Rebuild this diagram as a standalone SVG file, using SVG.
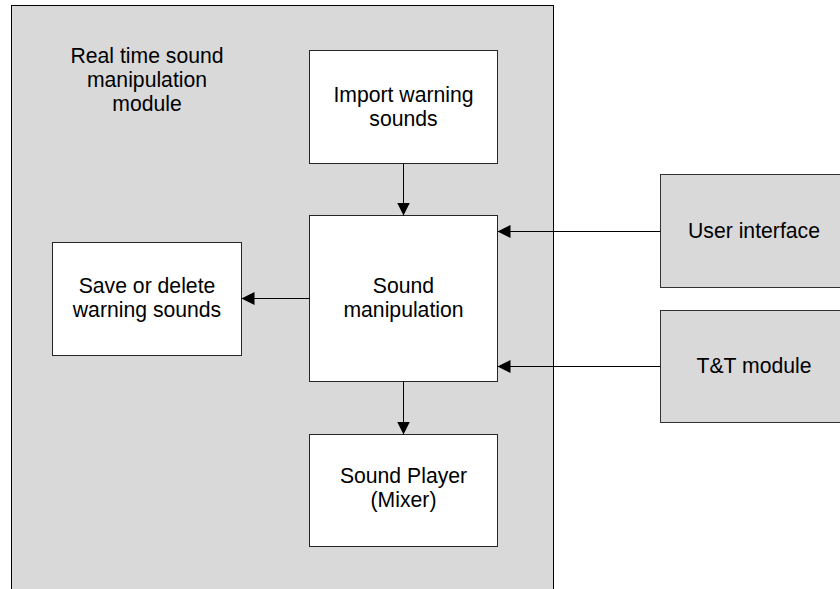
<svg xmlns="http://www.w3.org/2000/svg" width="840" height="589" viewBox="0 0 840 589">
  <style>
    .label { font-family: "Liberation Sans", Arial, sans-serif; font-size: 21.2px; fill: #000; text-anchor: middle; }
    .box { fill: #ffffff; stroke: #262626; stroke-width: 1; }
    .ext { fill: #d9d9d9; stroke: #333333; stroke-width: 1; }
    .frame { fill: #d9d9d9; stroke: #000000; stroke-width: 1; }
    .wire { fill: none; stroke: #000000; stroke-width: 1; marker-end: url(#head); }
  </style>
  <defs>
    <marker id="head" markerUnits="userSpaceOnUse" markerWidth="13" markerHeight="13" refX="13" refY="6.5" orient="auto">
      <path d="M0,0 L13,6.5 L0,13 Z" fill="#000000"/>
    </marker>
  </defs>

  <rect width="840" height="589" fill="#ffffff"/>

  <!-- module boundary -->
  <g id="module">
    <rect class="frame" x="11.5" y="5.5" width="542" height="600"/>
    <text class="label" x="147" y="63">Real time sound</text>
    <text class="label" x="147" y="87">manipulation</text>
    <text class="label" x="147" y="111">module</text>
  </g>

  <g id="import">
    <rect class="box" x="309.5" y="50.5" width="188" height="113"/>
    <text class="label" x="403.5" y="102">Import warning</text>
    <text class="label" x="403.5" y="126">sounds</text>
  </g>

  <g id="manipulation">
    <rect class="box" x="309.5" y="215.5" width="188" height="166"/>
    <text class="label" x="403.5" y="293">Sound</text>
    <text class="label" x="403.5" y="317">manipulation</text>
  </g>

  <g id="save">
    <rect class="box" x="52.5" y="242.5" width="189" height="113"/>
    <text class="label" x="147" y="293">Save or delete</text>
    <text class="label" x="147" y="317">warning sounds</text>
  </g>

  <g id="player">
    <rect class="box" x="309.5" y="434.5" width="188" height="112"/>
    <text class="label" x="403.5" y="483">Sound Player</text>
    <text class="label" x="403.5" y="507">(Mixer)</text>
  </g>

  <g id="ui">
    <rect class="ext" x="660.5" y="174.5" width="189" height="113"/>
    <text class="label" x="754" y="238">User interface</text>
  </g>

  <g id="tt">
    <rect class="ext" x="660.5" y="310.5" width="189" height="112"/>
    <text class="label" x="754" y="373">T&amp;T module</text>
  </g>

  <g id="connectors">
    <line class="wire" x1="403.5" y1="163.5" x2="403.5" y2="215.5"/>
    <line class="wire" x1="309.5" y1="298.5" x2="241.5" y2="298.5"/>
    <line class="wire" x1="403.5" y1="381.5" x2="403.5" y2="434.5"/>
    <line class="wire" x1="660.5" y1="231.5" x2="497.5" y2="231.5"/>
    <line class="wire" x1="660.5" y1="366.5" x2="497.5" y2="366.5"/>
  </g>
</svg>
